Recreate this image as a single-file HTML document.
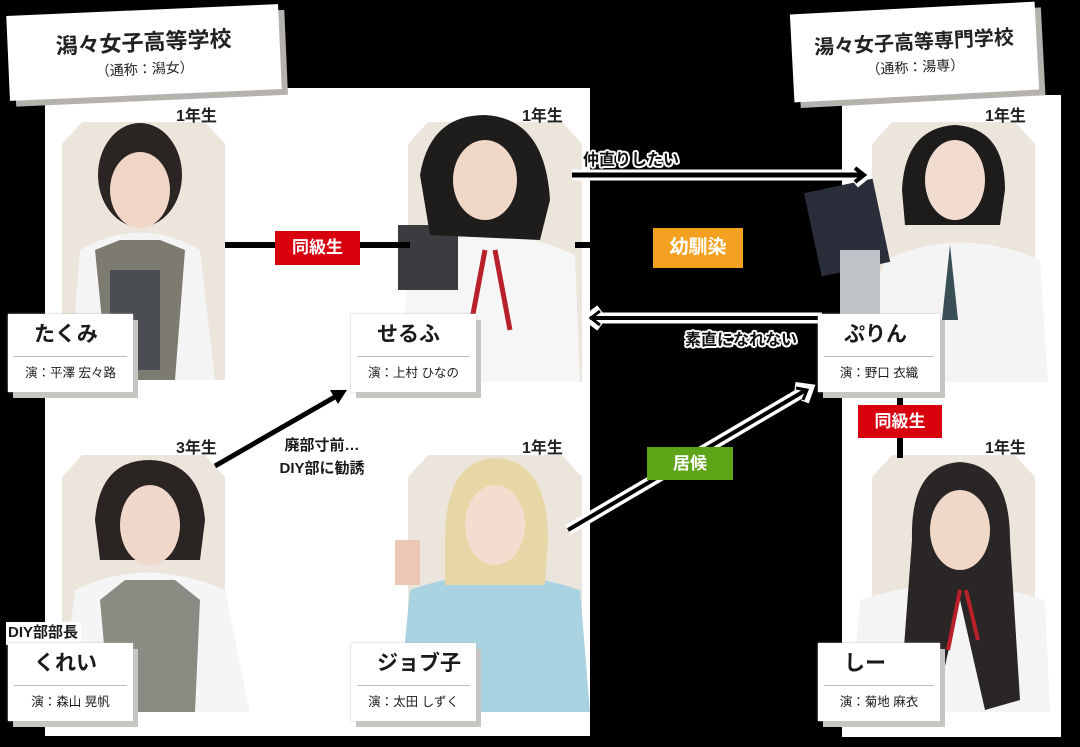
<!DOCTYPE html>
<html><head><meta charset="utf-8"><style>
*{margin:0;padding:0;box-sizing:border-box}
body{width:1080px;height:747px;background:#000;position:relative;overflow:hidden;font-family:"Liberation Sans","Noto Sans CJK JP",sans-serif;font-weight:bold}
.abs{position:absolute}
.panel{position:absolute;background:#fff}
.tag{position:absolute;background:#fff;box-shadow:6px 6px 0 #b5b2ae;text-align:center;color:#222}
.nb{position:absolute;width:125px;height:78px;background:#fff;box-shadow:5px 6px 0 #c8c6c3,0 0 2px #bbb;text-align:center;color:#1a1a1a}
.nb .n{font-size:21px;height:42px;line-height:42px;text-align:left;padding-left:26px}
.nb .l{height:1px;background:#bbb;margin:0 6px}
.nb .a{font-size:12.5px;line-height:33px;font-weight:normal}
.yr{position:absolute;font-size:16px;color:#222}
.lab{position:absolute;color:#fff;font-size:17px;text-align:center}
.ol{position:absolute;color:#111;font-size:16px;text-shadow:2px 0 #fff,-2px 0 #fff,0 2px #fff,0 -2px #fff,1.5px 1.5px #fff,-1.5px -1.5px #fff,1.5px -1.5px #fff,-1.5px 1.5px #fff}
</style></head><body>
<div class="panel" style="left:45px;top:88px;width:545px;height:648px"></div>
<div class="panel" style="left:842px;top:95px;width:219px;height:642px"></div>

<svg class="abs" style="left:0;top:0" width="1080" height="747">
<polygon points="82,122 205,122 225,144 225,380 62,380 62,144" fill="#ece5dc"/>
<polygon points="428,122 562,122 582,144 582,382 408,382 408,144" fill="#ece5dc"/>
<polygon points="892,122 1015,122 1035,144 1035,382 872,382 872,144" fill="#ece5dc"/>
<polygon points="82,455 205,455 225,477 225,712 62,712 62,477" fill="#ece5dc"/>
<polygon points="428,455 562,455 582,477 582,712 408,712 408,477" fill="#ece5dc"/>
<polygon points="892,455 1015,455 1035,477 1035,712 872,712 872,477" fill="#ece5dc"/>
<g>
<path d="M70,380 L80,250 Q140,215 200,250 L215,380Z" fill="#f4f4f4"/>
<path d="M95,250 L108,380 L175,380 L185,250 L160,240 L120,240Z" fill="#7d7a70"/>
<rect x="110" y="270" width="50" height="100" fill="#4a4d52"/>
<ellipse cx="140" cy="175" rx="42" ry="52" fill="#2a2522"/>
<ellipse cx="140" cy="190" rx="30" ry="38" fill="#efd6c6"/>
</g>
<g>
<path d="M398,382 L410,255 Q490,215 575,255 L580,382Z" fill="#f6f6f6"/>
<rect x="398" y="225" width="60" height="65" fill="#3a3c3f"/>
<path d="M420,175 Q430,115 485,115 Q545,118 550,200 L540,240 L430,235Z" fill="#1f1c1c"/>
<ellipse cx="485" cy="180" rx="32" ry="40" fill="#f0d8c8"/>
<path d="M485,250 L470,330 M495,250 L510,330" stroke="#b8202a" stroke-width="5"/>
</g>
<g>
<path d="M845,382 L885,260 Q960,225 1040,260 L1048,382Z" fill="#f4f4f4"/>
<path d="M950,245 L942,320 L958,320Z" fill="#3a4e55"/>
<rect x="812" y="185" width="70" height="85" fill="#2a2d3a" transform="rotate(-12 847 227)"/>
<rect x="840" y="250" width="40" height="70" fill="#bfc2c6"/>
<path d="M902,190 Q905,128 955,125 Q1005,128 1005,190 L1000,225 L905,225Z" fill="#1e1b1b"/>
<ellipse cx="955" cy="180" rx="30" ry="40" fill="#f2dccf"/>
</g>
<g>
<path d="M60,712 L75,590 Q145,555 225,590 L250,712Z" fill="#f5f5f5"/>
<path d="M100,600 L110,712 L195,712 L200,600 L175,580 L125,580Z" fill="#8b8a83"/>
<path d="M95,520 Q100,460 150,460 Q200,462 205,520 L200,560 L100,560Z" fill="#2a2422"/>
<ellipse cx="150" cy="525" rx="30" ry="40" fill="#efd7c9"/>
</g>
<g>
<path d="M398,712 L410,590 Q490,560 580,590 L590,712Z" fill="#a9d3e0"/>
<rect x="395" y="540" width="25" height="45" fill="#eac8b5"/>
<path d="M445,540 Q445,460 495,458 Q548,460 548,540 L545,585 L445,585Z" fill="#e8d7a6"/>
<ellipse cx="495" cy="525" rx="30" ry="40" fill="#f4dccf"/>
</g>
<g>
<path d="M850,712 L860,600 Q950,570 1045,600 L1050,712Z" fill="#f4f4f4"/>
<path d="M912,540 Q910,465 960,462 Q1010,465 1010,540 L1020,700 L985,710 L960,600 L935,710 L900,700Z" fill="#2b2626"/>
<ellipse cx="960" cy="530" rx="30" ry="40" fill="#f0d8c9"/>
<path d="M960,590 L948,650 M966,590 L978,640" stroke="#b8202a" stroke-width="4"/>
</g>
<line x1="225" y1="245" x2="410" y2="245" stroke="#000" stroke-width="6"/>
<line x1="575" y1="245" x2="596" y2="245" stroke="#000" stroke-width="6"/>
<line x1="900" y1="390" x2="900" y2="458" stroke="#000" stroke-width="6"/>
<g fill="none" stroke-linecap="butt">
<line x1="572" y1="175" x2="860" y2="175" stroke="#fff" stroke-width="11"/>
<polyline points="855,166 866,175 855,184" stroke="#fff" stroke-width="9"/>
<line x1="572" y1="175" x2="862" y2="175" stroke="#000" stroke-width="5"/>
<polyline points="855,168 864,175 855,182" stroke="#000" stroke-width="4"/>
<line x1="822" y1="318" x2="592" y2="318" stroke="#fff" stroke-width="11"/>
<polyline points="600,309 588,318 600,327" stroke="#fff" stroke-width="9"/>
<line x1="822" y1="318" x2="590" y2="318" stroke="#000" stroke-width="4"/>
<polyline points="600,311 591,318 600,325" stroke="#000" stroke-width="3"/>
<line x1="568" y1="530" x2="806" y2="390" stroke="#fff" stroke-width="11"/>
<polyline points="795,386 810,388 805,402" stroke="#fff" stroke-width="8"/>
<line x1="568" y1="530" x2="806" y2="390" stroke="#000" stroke-width="4"/>
<polyline points="796,388 807,390 803,400" stroke="#000" stroke-width="3"/>
<line x1="215" y1="466" x2="340" y2="394" stroke="#000" stroke-width="5"/>
<polygon points="347,390 330,390 338,404" fill="#000"/>
</g>
</svg>

<div class="tag" style="left:8px;top:10px;width:272px;height:85px;transform:rotate(-2.5deg)"><div style="font-size:22px;margin-top:15px">潟々女子高等学校</div><div style="font-size:14px;font-weight:normal;margin-top:2px">（通称：潟女）</div></div>
<div class="tag" style="left:792px;top:8px;width:245px;height:88px;transform:rotate(-3deg)"><div style="font-size:20px;margin-top:18px">湯々女子高等専門学校</div><div style="font-size:14px;font-weight:normal;margin-top:2px">（通称：湯専）</div></div>

<div class="yr" style="left:176px;top:102px">1年生</div>
<div class="yr" style="left:522px;top:102px">1年生</div>
<div class="yr" style="left:985px;top:102px">1年生</div>
<div class="yr" style="left:176px;top:434px">3年生</div>
<div class="yr" style="left:522px;top:434px">1年生</div>
<div class="yr" style="left:985px;top:434px">1年生</div>

<div class="lab" style="left:275px;top:231px;width:85px;height:34px;line-height:34px;background:#d8000f">同級生</div>
<div class="lab" style="left:858px;top:405px;width:84px;height:33px;line-height:33px;background:#d8000f">同級生</div>
<div class="lab" style="left:653px;top:228px;width:90px;height:40px;line-height:40px;background:#f4a020;font-size:19px">幼馴染</div>
<div class="lab" style="left:647px;top:447px;width:86px;height:33px;line-height:33px;background:#5ea417">居候</div>

<div class="ol" style="left:583px;top:146px">仲直りしたい</div>
<div class="ol" style="left:685px;top:326px">素直になれない</div>
<div class="abs" style="left:262px;top:434px;width:120px;text-align:center;font-size:15px;line-height:23px;color:#1a1a1a">廃部寸前…<br>DIY部に勧誘</div>
<div class="abs" style="left:6px;top:622px;font-size:15px;color:#1a1a1a;background:#fff;padding:1px 3px 3px 2px;line-height:19px">DIY部部長</div>

<div class="nb" style="left:8px;top:314px"><div class="n">たくみ</div><div class="l"></div><div class="a">演：平澤 宏々路</div></div>
<div class="nb" style="left:351px;top:314px"><div class="n">せるふ</div><div class="l"></div><div class="a">演：上村 ひなの</div></div>
<div class="nb" style="left:818px;top:314px;width:122px"><div class="n">ぷりん</div><div class="l"></div><div class="a">演：野口 衣織</div></div>
<div class="nb" style="left:8px;top:643px"><div class="n">くれい</div><div class="l"></div><div class="a">演：森山 晃帆</div></div>
<div class="nb" style="left:351px;top:643px"><div class="n">ジョブ子</div><div class="l"></div><div class="a">演：太田 しずく</div></div>
<div class="nb" style="left:818px;top:643px;width:122px"><div class="n">しー</div><div class="l"></div><div class="a">演：菊地 麻衣</div></div>
</body></html>
